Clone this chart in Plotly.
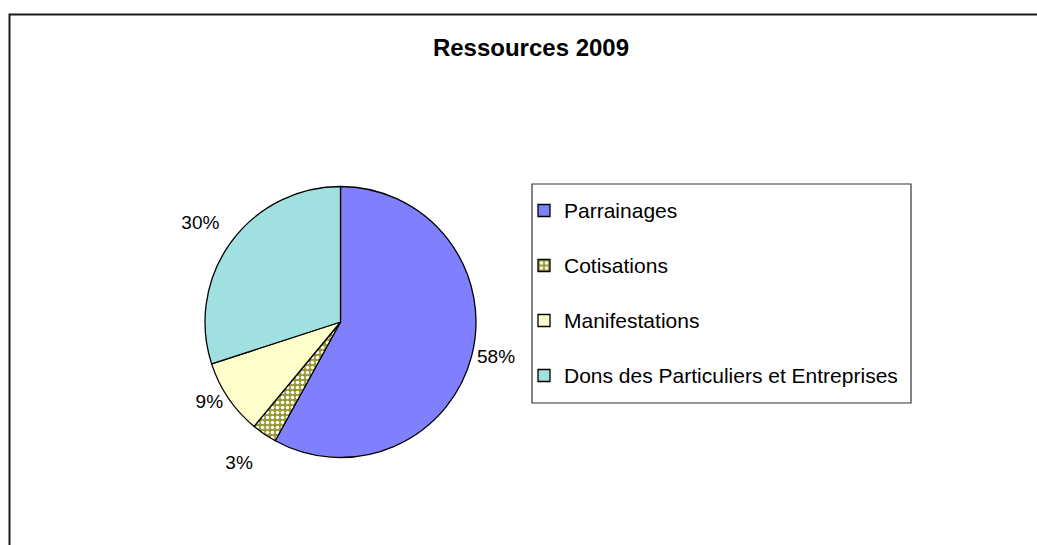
import plotly.graph_objects as go

# ---- data ----
title_text = "Ressources 2009"
labels = ["Parrainages", "Cotisations", "Manifestations", "Dons des Particuliers et Entreprises"]
values = [58, 3, 9, 30]
colors = ["#8080FF", "#999933", "#FFFFCC", "#A0E0E0"]
patterns = ["", ".", "", ""]
pattern_fg = ["white", "white", "white", "white"]

W, H = 1037, 545

def px_x(x):
    return x / W

def px_y(y):
    return 1 - y / H

# legend text: 21px text plus an empty second line to widen the spacing between entries
legend_labels = ["<span style='font-size:21px'>" + l + "</span><br>\u00a0" for l in labels]

# outside labels nudged outward a little like the original (blank line above / below)
text_templates = [
    "%{percent:.0%}",
    "\u00a0<br>%{percent:.0%}",
    "%{percent:.0%}",
    "%{percent:.0%}<br>\u00a0",
]

fig = go.Figure(
    go.Pie(
        labels=legend_labels,
        values=values,
        sort=False,
        direction="clockwise",
        rotation=0,
        marker=dict(
            colors=colors,
            line=dict(color="black", width=1.3),
            pattern=dict(shape=patterns, fgcolor=pattern_fg, bgcolor=colors,
                         size=5, solidity=0.4, fillmode="replace"),
        ),
        texttemplate=text_templates,
        textposition="outside",
        textfont=dict(family="Arial, Liberation Sans", size=19, color="black"),
        domain=dict(x=[px_x(205), px_x(476)], y=[px_y(457.5), px_y(186.5)]),
        hoverinfo="percent",
    )
)

fig.update_layout(
    width=W,
    height=H,
    margin=dict(l=0, r=0, t=0, b=0),
    paper_bgcolor="white",
    plot_bgcolor="white",
    font=dict(family="Arial, Liberation Sans", color="black"),
    title=dict(
        text="<b>" + title_text + "</b>",
        font=dict(size=24, family="Arial, Liberation Sans", color="black"),
        x=px_x(531),
        y=1 - 48 / H,
        xref="container",
        yref="container",
        xanchor="center",
        yanchor="middle",
    ),
    legend=dict(
        x=px_x(524),
        y=px_y(191),
        xanchor="left",
        yanchor="top",
        font=dict(size=20, family="Arial, Liberation Sans", color="black"),
        valign="top",
        borderwidth=0,
        bgcolor="rgba(0,0,0,0)",
        traceorder="normal",
    ),
    showlegend=True,
    shapes=[
        # outer chart frame
        dict(type="rect", xref="paper", yref="paper",
             x0=px_x(9.5), y0=px_y(14.5), x1=1.05, y1=-0.05,
             line=dict(color="#1a1a1a", width=2), fillcolor="rgba(0,0,0,0)", layer="below"),
        # legend box
        dict(type="rect", xref="paper", yref="paper",
             x0=px_x(532), y0=px_y(184), x1=px_x(911), y1=px_y(403),
             line=dict(color="#333333", width=1.2), fillcolor="rgba(0,0,0,0)", layer="below"),
    ],
)

fig.write_html("out.html", config={"displayModeBar": False},
               post_script="document.body.style.margin='0';")
